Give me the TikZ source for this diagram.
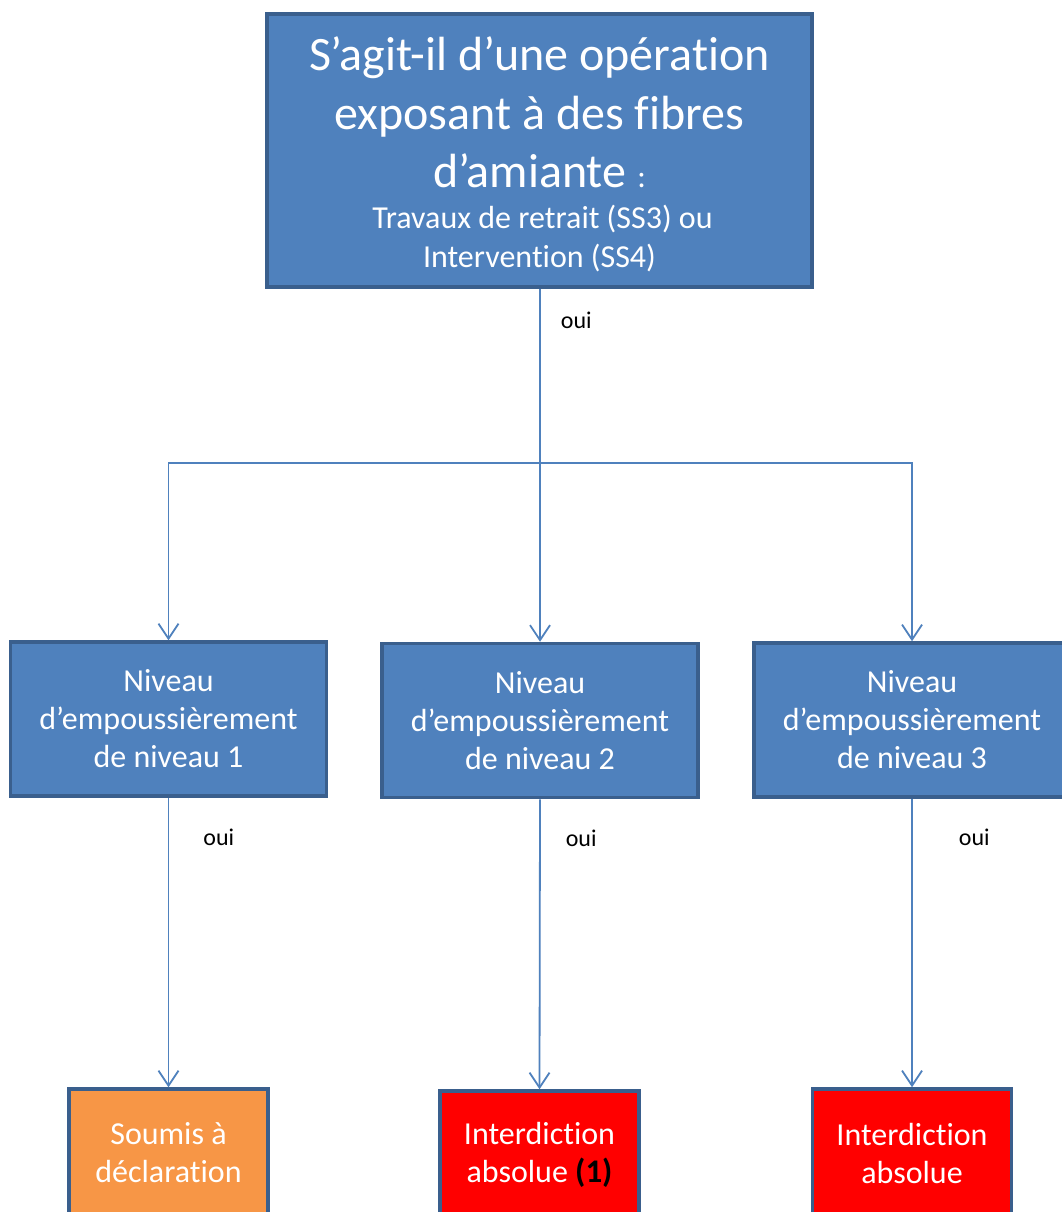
\documentclass[tikz,border=0pt]{standalone}
\usepackage{fontspec}
\setmainfont{Carlito}[Ligatures=CommonOff]
\usetikzlibrary{arrows.meta}
\definecolor{boxblue}{HTML}{4F81BD}
\definecolor{boxedge}{HTML}{3A5F8D}
\definecolor{lineblue}{HTML}{4F81BD}
\definecolor{boxorange}{HTML}{F79646}
\definecolor{boxred}{HTML}{FF0000}
\tikzset{
  box/.style={draw=boxedge, line width=3.5pt, text=white, align=center, inner sep=0pt},
  bluebox/.style={box, fill=boxblue},
  midbox/.style={bluebox, minimum width=316pt, minimum height=154pt, font=\fontsize{32}{38}\selectfont},
  endbox/.style={box, minimum width=199pt, minimum height=128pt, font=\fontsize{32}{38}\selectfont},
  bigtxt/.style={text=white, anchor=base, inner sep=0pt, font=\fontsize{48}{58}\selectfont},
  subtxt/.style={text=white, anchor=base, inner sep=0pt, font=\fontsize{32}{38}\selectfont},
  conn/.style={draw=lineblue, line width=1.8pt},
  arr/.style={conn, -{Straight Barb[length=15pt,width=20pt,line width=1.8pt]}},
  lbl/.style={font=\fontsize{24}{28}\selectfont, text=black, anchor=west, inner sep=0pt}
}
\begin{document}
\begin{tikzpicture}[x=1pt,y=-1pt]
\useasboundingbox (0,0) rectangle (1062,1212);
\clip (0,0) rectangle (1062,1212);
\fill[white] (0,0) rectangle (1062,1212);
% top box
\node[bluebox, minimum width=545pt, minimum height=273pt] (top) at (539.5,150.5) {};
\node[bigtxt] (t1) at (539.5,71) {S’agit-il d’une opération};
\node[bigtxt] (t2) at (539.5,129.5) {exposant à des fibres};
\node[bigtxt] (t3) at (539.5,187.5) {d’amiante {\fontsize{32}{38}\selectfont :}};
\node[subtxt] (t4) at (542.5,228) {Travaux de retrait (SS3) ou};
\node[subtxt] (t5) at (539.5,267) {Intervention (SS4)};
% middle boxes
\node[midbox] (m1) at (168.5,719) {Niveau\\ d’empoussièrement\\ de niveau 1};
\node[midbox] (m2) at (540,720.5) {Niveau\\ d’empoussièrement\\ de niveau 2};
\node[midbox] (m3) at (912,720) {Niveau\\ d’empoussièrement\\ de niveau 3};
% bottom boxes
\node[endbox, fill=boxorange] (b1) at (168.5,1153) {Soumis à\\ déclaration};
\node[endbox, fill=boxred] (b2) at (539.5,1155) {Interdiction\\ absolue {\fontsize{33}{38}\selectfont\bfseries\textcolor{black}{(1)}}};
\node[endbox, fill=boxred] (b3) at (912,1153) {Interdiction\\ absolue};
% connectors
\coordinate (j) at (540,463);
\draw[conn] (top.south -| j) -- node[lbl, pos=0.18, xshift=20pt] (o0) {oui} (j);
\draw[arr] (j) -| (m1.north);
\draw[arr] (j) -- (m2.north);
\draw[arr] (j) -| (m3.north);
\draw[arr] (m1.south) -- node[lbl, pos=0.135, xshift=34pt] (o1) {oui} (b1.north);
\draw[arr] (m2.south) -- node[lbl, pos=0.135, xshift=25pt] (o2) {oui} (b2.north);
\draw[arr] (m3.south) -- node[lbl, pos=0.135, xshift=46pt] (o3) {oui} (b3.north);
\end{tikzpicture}
\end{document}
